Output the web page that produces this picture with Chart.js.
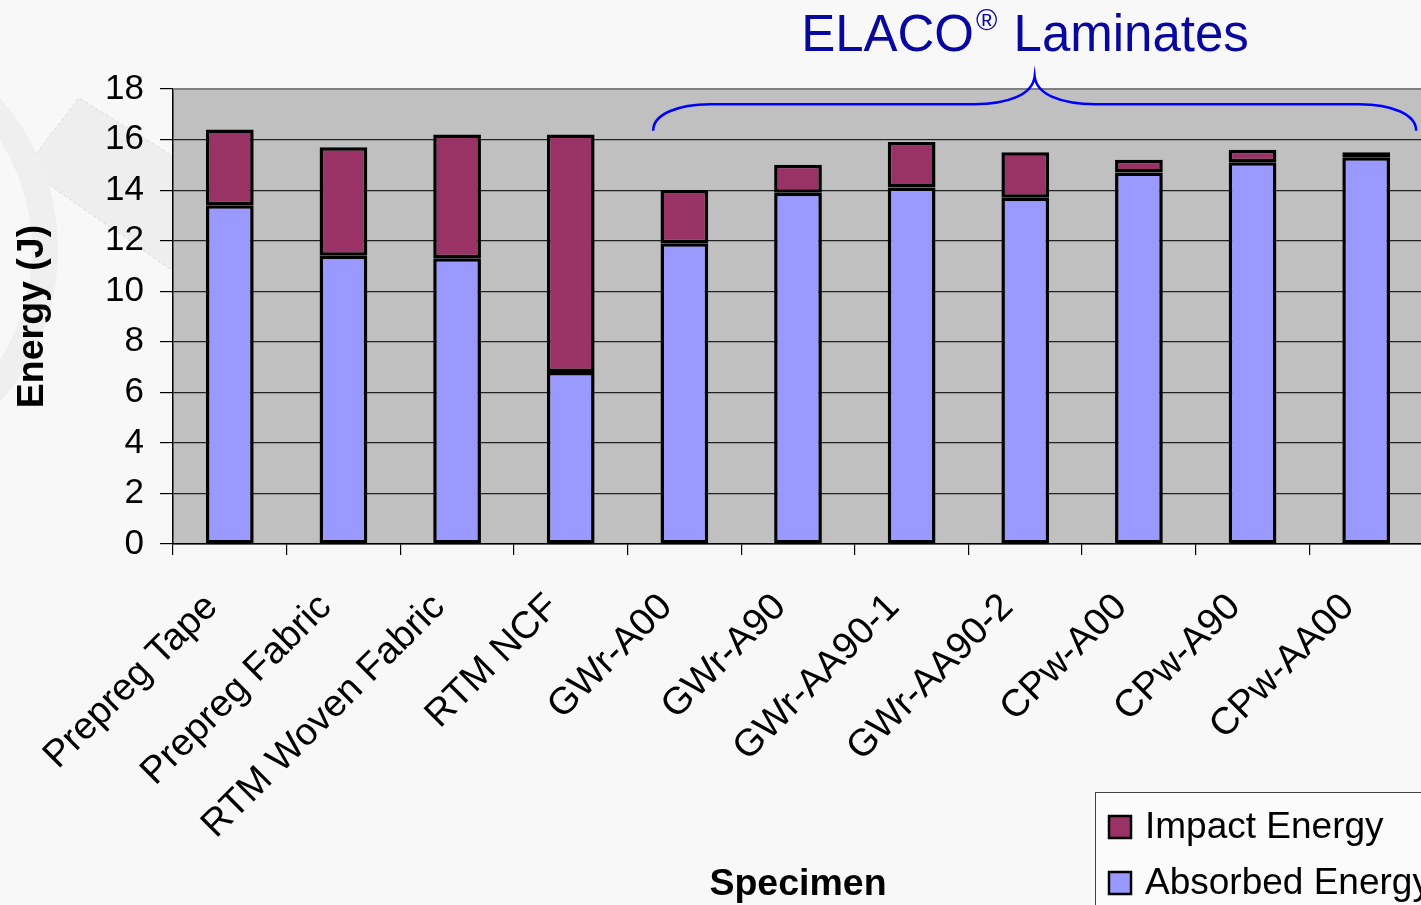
<!DOCTYPE html>
<html>
<head>
<meta charset="utf-8">
<script src="https://cdn.jsdelivr.net/npm/chart.js@4.4.0/dist/chart.umd.min.js"></script>
<style>
  html, body { margin: 0; padding: 0; background: #f8f8f8; overflow: hidden; }
  #wrap { width: 1430px; height: 905px; }
</style>
</head>
<body>
<div id="wrap"><canvas id="myChart" width="1430" height="905"></canvas></div>
<script>
const specimens = ['Prepreg Tape', 'Prepreg Fabric', 'RTM Woven Fabric', 'RTM NCF', 'GWr-A00', 'GWr-A90',
  'GWr-AA90-1', 'GWr-AA90-2', 'CPw-A00', 'CPw-A90', 'CPw-AA00'];
// total impact energy (top of bar) and absorbed energy (lower part), J
const impactEnergy = [16.4, 15.7, 16.2, 16.2, 14.0, 15.0, 15.9, 15.5, 15.2, 15.6, 15.5];
const absorbedEnergy = [13.4, 11.4, 11.3, 6.8, 11.9, 13.9, 14.1, 13.7, 14.7, 15.1, 15.3];
const yTicks = [0, 2, 4, 6, 8, 10, 12, 14, 16, 18];

const impactColor = '#993366';
const absorbedColor = '#9999FF';
const FONT = 'Liberation Sans, Arial, sans-serif';

// the maroon part sits on top of the absorbed part
const impactRest = impactEnergy.map((v, i) => +(v - absorbedEnergy[i]).toFixed(2));

const bgPlugin = {
  id: 'bg',
  beforeDraw(chart) {
    const c = chart.ctx;
    const a = chart.chartArea;
    c.save();
    c.fillStyle = '#f8f8f8';
    c.fillRect(0, 0, chart.width, chart.height);
    // faint slide decoration
    c.fillStyle = '#eeeeee';
    c.strokeStyle = '#dadada';
    c.setLineDash([3, 3]);
    c.beginPath();
    c.moveTo(25, 168); c.lineTo(79, 98); c.lineTo(260, 210); c.lineTo(200, 290);
    c.closePath(); c.fill(); c.stroke();
    c.setLineDash([]);
    c.strokeStyle = '#efefef';
    c.lineWidth = 26;
    c.beginPath();
    c.arc(-170, 250, 215, -1.2, 1.2);
    c.stroke();
    c.fillStyle = '#c0c0c0';
    c.fillRect(a.left, a.top, a.right - a.left, a.bottom - a.top);
    c.restore();
  }
};

const annoPlugin = {
  id: 'anno',
  afterDraw(chart) {
    const c = chart.ctx;
    const xs = chart.scales.x, ys = chart.scales.y;
    const a = chart.chartArea;
    c.save();
    // plot frame top
    c.strokeStyle = '#808080';
    c.lineWidth = 2;
    c.beginPath(); c.moveTo(a.left, a.top); c.lineTo(a.right, a.top); c.stroke();

    // brace over ELACO laminates
    const xl = xs.getPixelForValue(3.725), xr = xs.getPixelForValue(10.44);
    const xm = (xl + xr) / 2;
    const yEnd = ys.getPixelForValue(16.35), yMid = ys.getPixelForValue(17.4), yTip = ys.getPixelForValue(18.5);
    c.strokeStyle = '#0000ff';
    c.lineWidth = 2.5;
    c.beginPath();
    c.moveTo(xl, yEnd);
    c.bezierCurveTo(xl, yMid + 10, xl + 25, yMid, xl + 57, yMid);
    c.lineTo(xm - 61, yMid);
    c.bezierCurveTo(xm - 25, yMid, xm - 2, yMid - 10, xm, yTip);
    c.bezierCurveTo(xm + 2, yMid - 10, xm + 25, yMid, xm + 61, yMid);
    c.lineTo(xr - 57, yMid);
    c.bezierCurveTo(xr - 25, yMid, xr, yMid + 10, xr, yEnd);
    c.stroke();

    // title text
    c.fillStyle = '#0808a0';
    c.textBaseline = 'alphabetic';
    c.textAlign = 'left';
    const big = '51px ' + FONT, small = '29px ' + FONT;
    c.font = big; const w1 = c.measureText('ELACO').width;
    c.font = small; const w2 = c.measureText('®').width;
    c.font = big; const w3 = c.measureText(' Laminates').width;
    let tx = 1025 - (w1 + w2 + 4 + w3) / 2;
    const ty = 51;
    c.font = big; c.fillText('ELACO', tx, ty); tx += w1 + 2;
    c.font = small; c.fillText('®', tx, ty - 21); tx += w2 + 2;
    c.font = big; c.fillText(' Laminates', tx, ty);

    // legend box
    c.fillStyle = '#fbfbfb';
    c.fillRect(1095, 792, 340, 130);
    c.strokeStyle = '#444';
    c.lineWidth = 1;
    c.strokeRect(1095.5, 792.5, 340, 130);
    const items = [[chart.data.datasets[1].label, impactColor, 827], [chart.data.datasets[0].label, absorbedColor, 883]];
    c.font = '37px ' + FONT;
    c.textBaseline = 'middle';
    items.forEach(([label, col, y]) => {
      c.fillStyle = col;
      c.fillRect(1109, y - 11, 22, 22);
      c.strokeStyle = '#000';
      c.lineWidth = 2.5;
      c.strokeRect(1109, y - 11, 22, 22);
      c.fillStyle = '#000';
      c.fillText(label, 1145, y + 1);
    });
    c.restore();
  }
};

const ctx = document.getElementById('myChart').getContext('2d');
new Chart(ctx, {
  type: 'bar',
  data: {
    labels: specimens,
    datasets: [
      {
        label: 'Absorbed Energy',
        data: absorbedEnergy,
        backgroundColor: absorbedColor,
        borderColor: '#000',
        borderWidth: 3.5,
        borderSkipped: false,
        barPercentage: 0.42,
        categoryPercentage: 1
      },
      {
        label: 'Impact Energy',
        data: impactRest,
        backgroundColor: impactColor,
        borderColor: '#000',
        borderWidth: 3.5,
        borderSkipped: false,
        barPercentage: 0.42,
        categoryPercentage: 1
      }
    ]
  },
  plugins: [bgPlugin, annoPlugin],
  options: {
    responsive: false,
    animation: false,
    devicePixelRatio: 1,
    layout: { padding: { top: 89, right: 7, bottom: 0, left: 0 } },
    plugins: {
      legend: { display: false },
      tooltip: { enabled: false }
    },
    scales: {
      x: {
        stacked: true,
        afterFit(scale) { scale.height = 361; },
        border: { color: '#000', width: 1.5 },
        grid: { drawOnChartArea: false, drawTicks: true, tickLength: 11, color: '#000', lineWidth: 1.2 },
        ticks: {
          minRotation: 45, maxRotation: 45, autoSkip: false, padding: 30, labelOffset: -18,
          color: '#000', font: { family: FONT, size: 38 }
        },
        title: {
          display: true, text: 'Specimen', color: '#000',
          font: { family: FONT, size: 37.5, weight: 'bold', lineHeight: 1 },
          padding: { top: 0, bottom: 2 }
        }
      },
      y: {
        stacked: true,
        min: 0, max: 18,
        afterFit(scale) { scale.width = 173; },
        afterBuildTicks(scale) { scale.ticks = yTicks.map(v => ({ value: v })); },
        border: { color: '#000', width: 1.5 },
        grid: {
          color: (c) => c.tick && c.tick.value === 18 ? '#808080' : '#222',
          tickColor: '#000',
          lineWidth: 1.2,
          tickLength: 13
        },
        ticks: { padding: 16, color: '#000', font: { family: FONT, size: 35 } },
        title: {
          display: true, text: 'Energy (J)', color: '#000',
          font: { family: FONT, size: 37.5, weight: 'bold', lineHeight: 1 },
          padding: { top: 14, bottom: 0 }
        }
      }
    }
  }
});
</script>
</body>
</html>
